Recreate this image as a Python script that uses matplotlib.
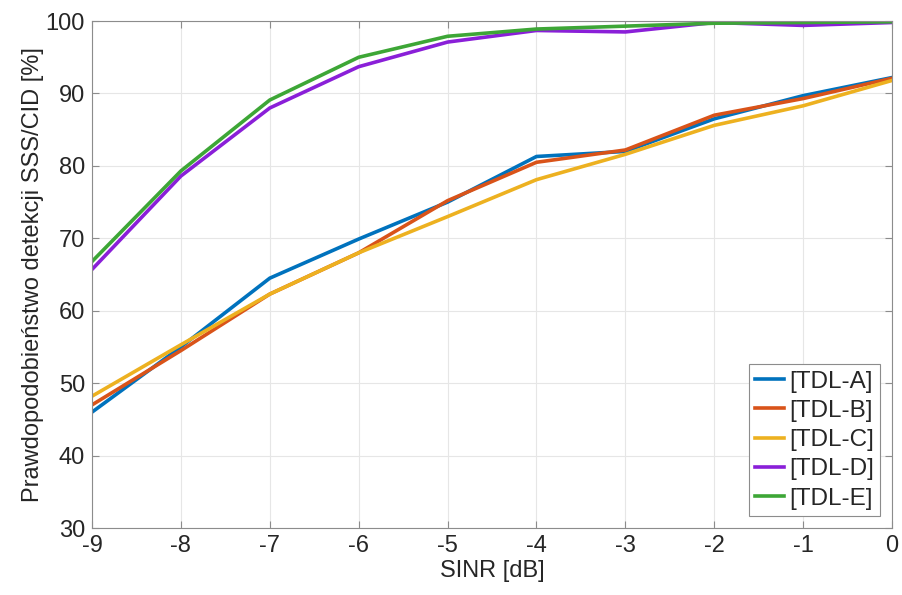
import numpy as np
import matplotlib.pyplot as plt

plt.rcParams['font.family'] = ['Liberation Sans', 'DejaVu Sans']
plt.rcParams['axes.unicode_minus'] = False

sinr = [-9, -8, -7, -6, -5, -4, -3, -2, -1, 0]
tdl_a = [46.0, 55.0, 64.5, 69.9, 75.0, 81.3, 82.0, 86.5, 89.7, 92.2]
tdl_b = [47.0, 54.5, 62.3, 68.0, 75.2, 80.5, 82.2, 87.0, 89.3, 92.1]
tdl_c = [48.2, 55.3, 62.3, 68.0, 73.0, 78.1, 81.6, 85.6, 88.3, 91.8]
tdl_d = [65.7, 78.6, 88.0, 93.7, 97.1, 98.7, 98.5, 99.8, 99.4, 99.8]
tdl_e = [66.8, 79.3, 89.1, 95.0, 97.9, 98.9, 99.3, 99.7, 99.8, 99.9]
labels = ['[TDL-A]', '[TDL-B]', '[TDL-C]', '[TDL-D]', '[TDL-E]']
colors = ['#0072BD', '#D95319', '#EDB120', '#8A1FD8', '#3DA636']

fig = plt.figure(figsize=(9.02, 5.95), dpi=100)
ax = fig.add_axes([0.102, 0.1126, 0.887, 0.852])

for y, lab, c in zip([tdl_a, tdl_b, tdl_c, tdl_d, tdl_e], labels, colors):
    ax.plot(sinr, y, color=c, lw=2.6, label=lab)

ax.set_xlim(-9, 0)
ax.set_ylim(30, 100)
ax.set_xticks(sinr)
ax.set_yticks(np.arange(30, 101, 10))
ax.grid(True, color='#e6e6e6', lw=0.8)
ax.set_axisbelow(True)
for s in ax.spines.values():
    s.set_color('#8c8c8c')
    s.set_linewidth(0.8)
ax.tick_params(direction='in', labelsize=17, colors='#8c8c8c', labelcolor='#262626',
               top=True, right=True, length=5, pad=5)
ax.set_xlabel('SINR [dB]', fontsize=17, color='#262626', labelpad=2)
ax.set_ylabel('Prawdopodobieństwo detekcji SSS/CID [%]', fontsize=17, color='#262626', labelpad=1)

leg = ax.legend(loc='lower right', fontsize=17.5, handlelength=1.2, handletextpad=0.2,
                labelspacing=0.3, borderpad=0.25, fancybox=False, framealpha=1,
                borderaxespad=0.5)
leg.get_frame().set_edgecolor('#8c8c8c')
leg.get_frame().set_linewidth(0.8)
for t in leg.get_texts():
    t.set_color('#262626')

fig.savefig('out.png', dpi=100)
